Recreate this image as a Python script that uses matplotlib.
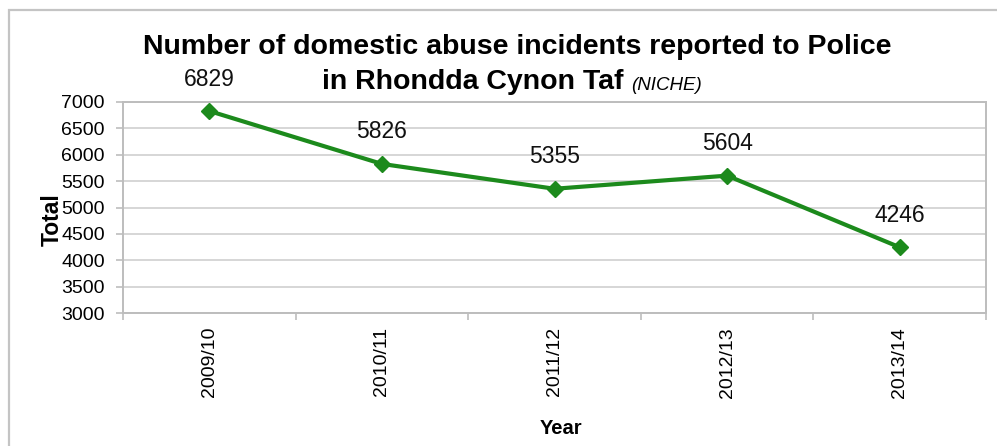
import matplotlib
matplotlib.use("Agg")
import matplotlib.pyplot as plt
from matplotlib.patches import Rectangle

plt.rcParams['font.family'] = ['Liberation Sans', 'DejaVu Sans']

years = ["2009/10", "2010/11", "2011/12", "2012/13", "2013/14"]
incidents = [6829, 5826, 5355, 5604, 4246]
y_ticks = [3000, 3500, 4000, 4500, 5000, 5500, 6000, 6500, 7000]

W, H = 997, 446
fig = plt.figure(figsize=(W / 100, H / 100), dpi=100)

# axes placed in pixel terms
left, right, top, bottom = 123, 986, 102, 313
ax = fig.add_axes([left / W, 1 - bottom / H, (right - left) / W, (bottom - top) / H])

# outer chart frame
fig.patches.append(Rectangle((8.5 / W, -0.1), 1.2, 1 - 9.5 / H + 0.1,
                             transform=fig.transFigure, fill=False,
                             edgecolor="#c4c4c4", linewidth=1.6))

x = list(range(len(years)))
green = "#1c8a1c"
ax.plot(x, incidents, color=green, linewidth=3, marker="D", markersize=8,
        markerfacecolor=green, markeredgecolor=green, zorder=3, clip_on=False)
for xi, v in zip(x, incidents):
    ax.annotate(str(v), (xi, v), xytext=(0, 23), textcoords="offset points",
                ha="center", va="center", fontsize=16.5, color="#111111")

ax.set_xlim(-0.5, len(years) - 0.5)
ax.set_ylim(3000, 7000)
ax.set_yticks(y_ticks)
ax.set_yticklabels([str(t) for t in y_ticks], fontsize=14)
ax.set_xticks(x)
ax.set_xticklabels(years, rotation=90, fontsize=14)
ax.tick_params(axis="x", length=0, pad=10)
ax.set_xticks([i - 0.5 for i in range(len(years) + 1)], minor=True)
ax.tick_params(axis="x", which="minor", length=5, color="#bdbdbd", width=1.2)
ax.tick_params(axis="y", length=5, color="#bdbdbd", width=1.2, pad=8)

ax.grid(axis="y", color="#cfcfcf", linewidth=1.2)
ax.set_axisbelow(True)
for s in ax.spines.values():
    s.set_color("#bdbdbd")
    s.set_linewidth(1.4)

fig.text(52 / W, 1 - 220 / H, "Total", rotation=90, fontsize=16.5,
         fontweight="bold", ha="center", va="center")
fig.text(561 / W, 1 - 428 / H, "Year", fontsize=14.5, fontweight="bold",
         ha="center", va="center")

fig.text(517 / W, 1 - 47 / H, "Number of domestic abuse incidents reported to Police",
         fontsize=20.5, fontweight="bold", ha="center", va="center")
t2 = fig.text(322 / W, 1 - 82 / H, "in Rhondda Cynon Taf ",
              fontsize=20.5, fontweight="bold", ha="left", va="center")
fig.canvas.draw()
bb = t2.get_window_extent()
fig.text(bb.x1 / W, 1 - 85 / H, "(NICHE)", fontsize=13.5, fontstyle="italic",
         ha="left", va="center")

fig.savefig("out.png", dpi=100)
